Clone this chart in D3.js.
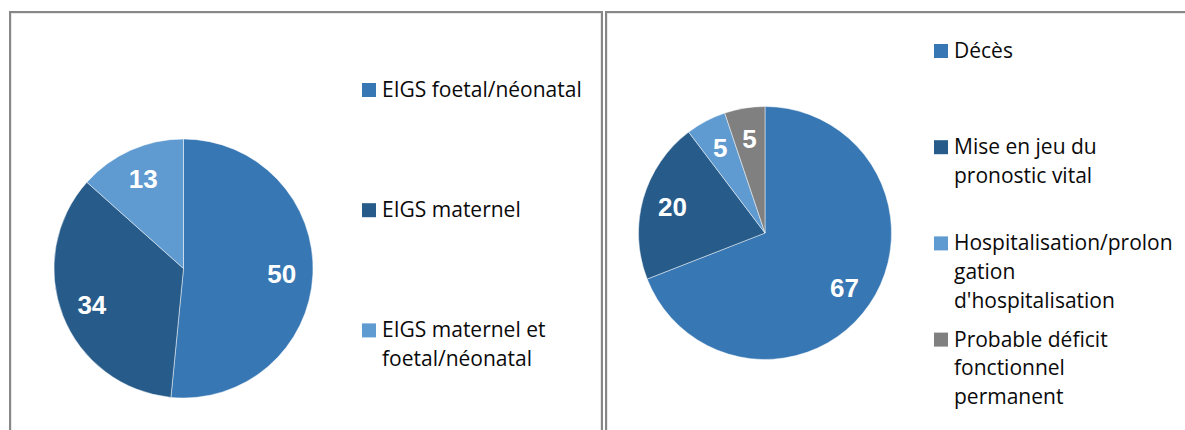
<!DOCTYPE html>
<html>
<head>
<meta charset="utf-8">
<script src="https://cdn.jsdelivr.net/npm/d3@7"></script>
<style>
  html, body { margin: 0; padding: 0; background: #fff; }
  svg { display: block; }
</style>
</head>
<body>
<svg id="chart" width="1185" height="430"></svg>
<script>
// ---- Data ----
const leftCategories = ["EIGS foetal/néonatal", "EIGS maternel", "EIGS maternel et foetal/néonatal"];
const leftValues = [50, 34, 13];
const leftLegendLines = [["EIGS foetal/néonatal"], ["EIGS maternel"], ["EIGS maternel et", "foetal/néonatal"]];

const rightCategories = ["Décès", "Mise en jeu du pronostic vital", "Hospitalisation/prolongation d'hospitalisation", "Probable déficit fonctionnel permanent"];
const rightValues = [67, 20, 5, 5];
const rightLegendLines = [["Décès"], ["Mise en jeu du", "pronostic vital"], ["Hospitalisation/prolon", "gation", "d'hospitalisation"], ["Probable déficit", "fonctionnel", "permanent"]];

const leftColors = ["#3777b3", "#265b8a", "#5f9bd0"];
const rightColors = ["#3777b3", "#265b8a", "#5f9bd0", "#808080"];

// ---- Drawing ----
const svg = d3.select("#chart");

// panel frames
function frame(x0, x1) {
  const g = svg.append("g");
  g.append("rect").attr("x", x0).attr("y", 13).attr("width", x1 - x0).attr("height", 460)
    .attr("fill", "none").attr("stroke", "#d4d4d4").attr("stroke-width", 1);
  g.append("rect").attr("x", x0 - 1).attr("y", 12).attr("width", x1 - x0 + 2).attr("height", 460)
    .attr("fill", "none").attr("stroke", "#878787").attr("stroke-width", 2);
}
frame(11, 601);
frame(607, 1200);

function drawPie(cx, cy, r, values, categories, colors) {
  const pie = d3.pie().sort(null).value(d => d)(values);
  const arc = d3.arc().innerRadius(0).outerRadius(r);
  const labelArc = d3.arc().innerRadius(r * 0.76).outerRadius(r * 0.76);
  const color = d3.scaleOrdinal().domain(categories).range(colors);
  const g = svg.append("g").attr("transform", `translate(${cx},${cy})`);
  g.selectAll("path.slice").data(pie).join("path")
    .attr("class", "slice")
    .attr("d", arc)
    .attr("fill", (d, i) => color(categories[i]))
    .attr("stroke", "rgba(255,255,255,0.6)")
    .attr("stroke-width", 0.8);
  g.selectAll("text.lbl").data(pie).join("text")
    .attr("class", "lbl")
    .attr("x", d => labelArc.centroid(d)[0])
    .attr("y", d => labelArc.centroid(d)[1] + 9.5)
    .attr("text-anchor", "middle")
    .attr("font-family", "'Liberation Sans', Arial, sans-serif")
    .attr("font-weight", "bold")
    .attr("font-size", 26)
    .attr("fill", "#fff")
    .text(d => d.data);
}

function drawLegend(x, y0, step, lineH, lines, categories, colors) {
  const color = d3.scaleOrdinal().domain(categories).range(colors);
  const g = svg.append("g");
  const items = g.selectAll("g.item").data(lines).join("g")
    .attr("class", "item")
    .attr("transform", (d, i) => `translate(${x},${y0 + i * step})`);
  items.append("rect")
    .attr("x", 0).attr("y", -14).attr("width", 14).attr("height", 14)
    .attr("fill", (d, i) => color(categories[i]));
  items.each(function(d) {
    const t = d3.select(this).append("text")
      .attr("font-family", "'Open Sans', 'Noto Sans', sans-serif")
      .attr("font-size", 21)
      .attr("fill", "#0a0a0a");
    d.forEach((line, j) => {
      t.append("tspan").attr("x", 20).attr("y", j * lineH).text(line);
    });
  });
}

drawPie(183.5, 268.5, 129.5, leftValues, leftCategories, leftColors);
drawPie(765, 233, 126.5, rightValues, rightCategories, rightColors);

drawLegend(362, 97, 120.2, 28.5, leftLegendLines, leftCategories, leftColors);
drawLegend(934, 58, 96.2, 28.6, rightLegendLines, rightCategories, rightColors);
</script>
</body>
</html>
